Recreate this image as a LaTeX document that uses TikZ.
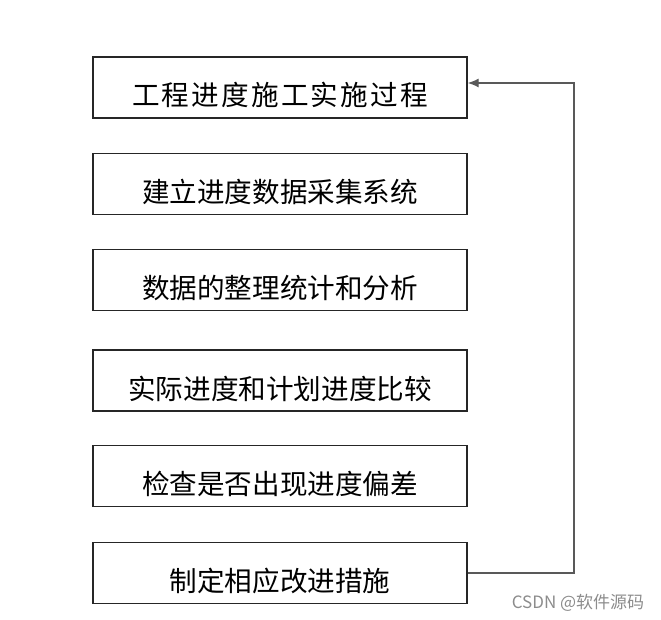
\documentclass[tikz,border=0pt]{standalone}
\usepackage{fontspec}
\setmainfont{Noto Sans CJK SC}
\usepackage{tikz}
\usetikzlibrary{arrows.meta}

\begin{document}
\begin{tikzpicture}[x=1pt, y=-1pt,
    stepbox/.style={draw=black!85, line width=1.4pt, minimum width=374pt, minimum height=61pt,
      inner sep=0pt, font=\fontsize{27.6}{30}\selectfont, text height=37pt, text depth=0pt},
    feedback/.style={draw=black!65, line width=1.2pt, -{Latex[length=11pt,width=9pt]}}]
  \useasboundingbox (0,0) rectangle (661,620);
  \node[stepbox] (s1) at (280,87.5) {\addfontfeature{LetterSpace=8}工程进度施工实施过程};
  \node[stepbox] (s2) at (280,184) {建立进度数据采集系统};
  \node[stepbox] (s3) at (280,280) {数据的整理统计和分析};
  \node[stepbox] (s4) at (280,380.5) {实际进度和计划进度比较};
  \node[stepbox] (s5) at (280,476) {检查是否出现进度偏差};
  \node[stepbox] (s6) at (280,573) {制定相应改进措施};
  \coordinate (turn) at (574,573);
  \draw[feedback] (s6.east) -- (turn) |- ([yshift=4.5pt]s1.east);
  \node[text=black!45, font=\fontsize{17}{19}\selectfont] (mark) at (578,603) {CSDN @软件源码};
\end{tikzpicture}
\end{document}
